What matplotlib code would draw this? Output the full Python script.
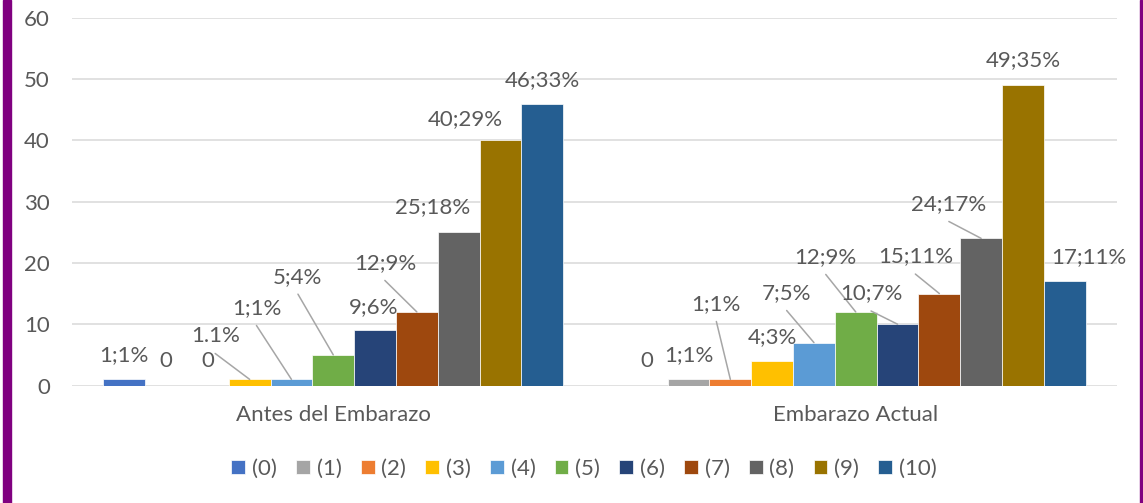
import matplotlib
matplotlib.use("Agg")
import matplotlib.pyplot as plt
from matplotlib.patches import Rectangle
import numpy as np

plt.rcParams['font.family'] = ['Lato', 'DejaVu Sans']

categories = ["Antes del Embarazo", "Embarazo Actual"]
series_names = ["(0)", "(1)", "(2)", "(3)", "(4)", "(5)", "(6)", "(7)", "(8)", "(9)", "(10)"]
antes = [1, 0, 0, 1, 1, 5, 9, 12, 25, 40, 46]
actual = [0, 1, 1, 4, 7, 12, 10, 15, 24, 49, 17]
labels_antes = ["1;1%", "0", "0", "1.1%", "1;1%", "5;4%", "9;6%", "12;9%", "25;18%", "40;29%", "46;33%"]
labels_actual = ["0", "1;1%", "1;1%", "4;3%", "7;5%", "12;9%", "10;7%", "15;11%", "24;17%", "49;35%", "17;11%"]
y_ticks = [0, 10, 20, 30, 40, 50, 60]

colors = ["#4472C4", "#A5A5A5", "#ED7D31", "#FFC000", "#5B9BD5", "#70AD47",
          "#264478", "#9E480E", "#636363", "#997300", "#255E91"]

# label offsets in pixels (dx, dy) from the bar top, and whether a leader line is drawn
offs_antes = [(0, 24), (0, 24.5), (0, 24.5), (-34.5, 43.4), (-35, 71.4), (-35.3, 78.2),
              (-1.5, 23.3), (-32, 49), (-26.3, 25.3), (-35, 21.2), (0, 23.5)]
lead_antes = [False, False, False, True, True, True, False, True, False, False, False]
offs_actual = [(0, 24.5), (0, 24.7), (-14, 75.4), (0, 24.3), (-27.3, 49.6), (-30, 55),
               (-26.5, 30.7), (-24, 37), (-32.3, 34.4), (0, 24.7), (24, 24.3)]
lead_actual = [False, False, True, False, True, True, True, True, True, False, False]

TEXT = "#595959"
GRID = "#D9D9D9"
FS = 16

fig = plt.figure(figsize=(11.43, 5.03), dpi=100)
ax = fig.add_axes([72/1143, 117.5/503, 1045/1143, 367.8/503])

width = 0.08
x = np.arange(len(categories))
data = np.array([antes, actual])
labels = [labels_antes, labels_actual]
offs = [offs_antes, offs_actual]
leads = [lead_antes, lead_actual]

for i, name in enumerate(series_names):
    pos = x + (i - 5) * width
    ax.bar(pos, data[:, i], width, color=colors[i], label=name,
           edgecolor="white", linewidth=0.5, zorder=3)
    for g in range(len(categories)):
        xv = pos[g]
        yv = data[g, i]
        dx, dy = offs[g][i]
        ax.annotate(labels[g][i], xy=(xv, yv), xytext=(dx, dy), textcoords="offset pixels",
                    ha="center", va="center", fontsize=FS, color=TEXT, zorder=5)
        if leads[g][i]:
            ax.annotate("", xy=(xv, yv), xytext=(dx, dy - 17.5), textcoords="offset pixels",
                        arrowprops=dict(arrowstyle="-", color="#A6A6A6", lw=1.1,
                                        shrinkA=0, shrinkB=0), zorder=4)

ax.set_xlim(-0.5, 1.5)
ax.set_ylim(0, 60)
ax.set_yticks(y_ticks)
ax.set_xticks(x)
ax.set_xticklabels(categories)
ax.tick_params(axis="y", length=0, pad=16, labelsize=FS, labelcolor=TEXT)
ax.tick_params(axis="x", length=0, pad=14, labelsize=FS, labelcolor=TEXT)
ax.grid(axis="y", color=GRID, linewidth=1.1, zorder=0)
ax.set_axisbelow(True)
for s in ax.spines.values():
    s.set_visible(False)

fig.legend(loc="center", bbox_to_anchor=(584/1143, 1 - 469/503), ncol=11, frameon=False,
           fontsize=FS, labelcolor=TEXT, handlelength=0.62, handleheight=0.62,
           handletextpad=0.3, columnspacing=0.87, borderaxespad=0)

# purple page border
fig.patches.append(Rectangle((3/1143, 0), 8/1143, 1, transform=fig.transFigure,
                             color="#800080", zorder=10))
fig.patches.append(Rectangle((1140/1143, 0), 2/1143, 1, transform=fig.transFigure,
                             color="#800080", zorder=10))

fig.savefig("out.png", dpi=100, facecolor="white")
